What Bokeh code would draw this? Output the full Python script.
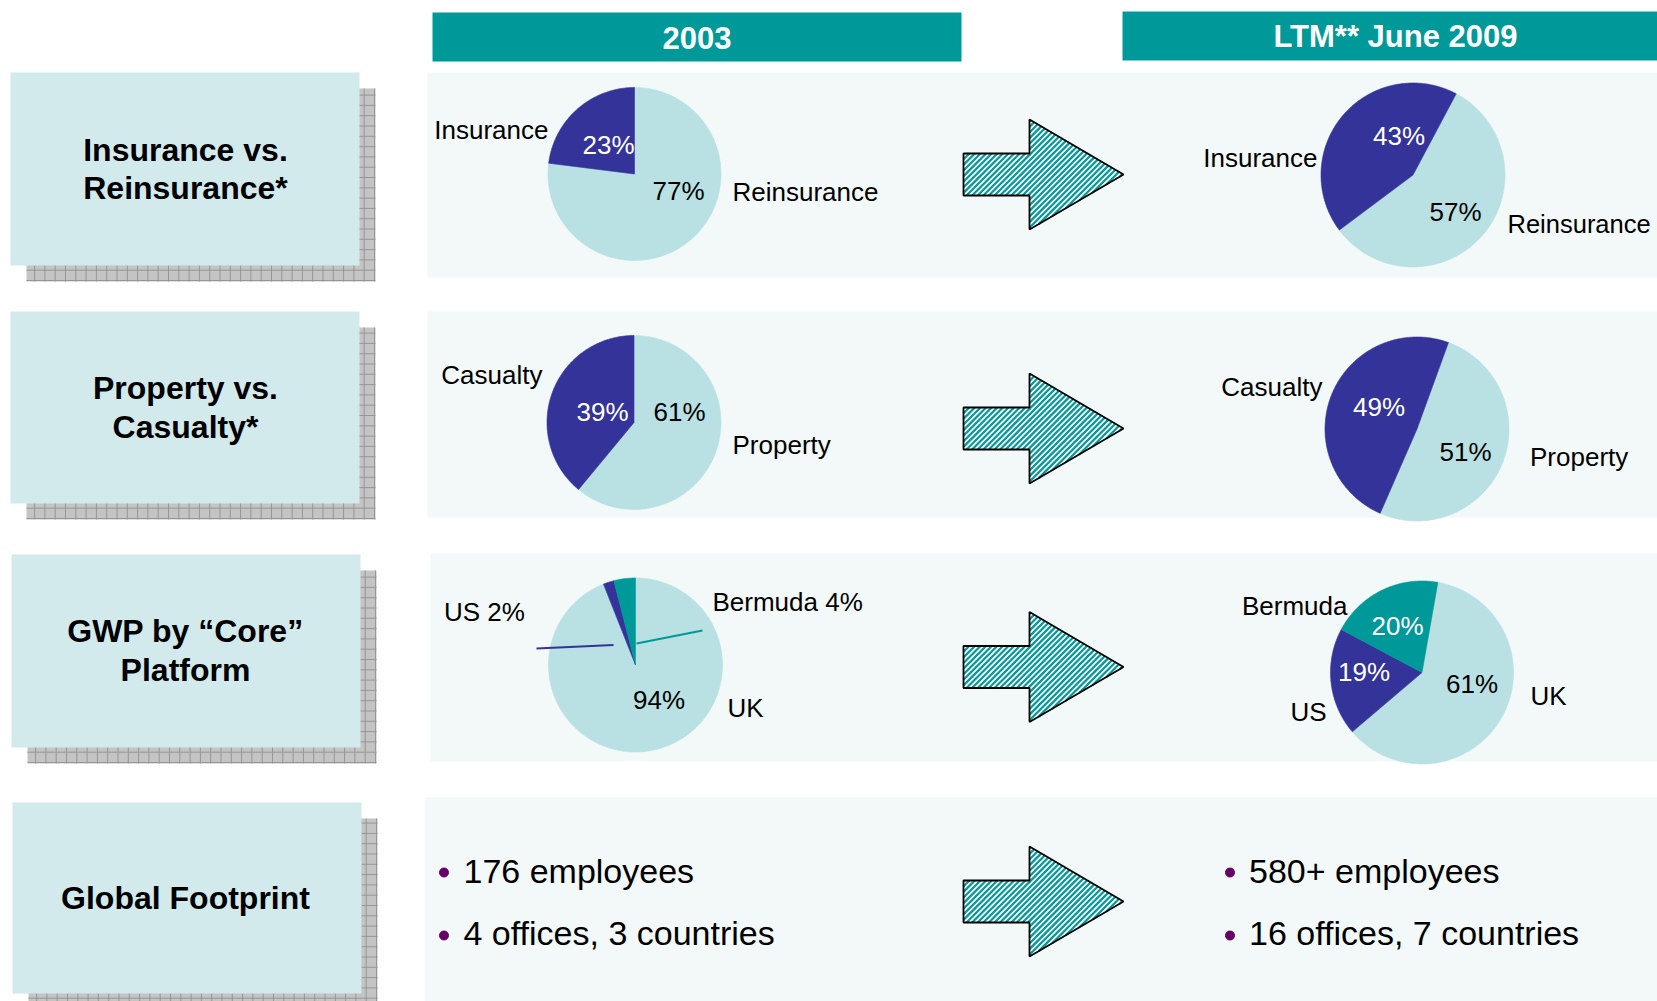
import numpy as np
from bokeh.plotting import figure
from bokeh.models import Range1d
from bokeh.core.properties import value
from bokeh.embed import file_html
from bokeh.resources import INLINE

# ---------------- data ----------------
period_labels = ["2003", "LTM** June 2009"]
row_titles = ["Insurance vs.\nReinsurance*", "Property vs.\nCasualty*",
              "GWP by \u201cCore\u201d\nPlatform", "Global Footprint"]

ins_cats = ["Reinsurance", "Insurance"]
ins_2003 = [77, 23]
ins_2009 = [57, 43]

prop_cats = ["Property", "Casualty"]
prop_2003 = [61, 39]
prop_2009 = [51, 49]

gwp_cats = ["UK", "US", "Bermuda"]
gwp_2003 = [94, 2, 4]
gwp_2009 = [61, 19, 20]

footprint_2003 = ["176 employees", "4 offices, 3 countries"]
footprint_2009 = ["580+ employees", "16 offices, 7 countries"]

# ---------------- style ----------------
FONT = "Liberation Sans"
TEAL = "#009999"
NAVY = "#333399"
PALE = "#b9e0e3"
BOX = "#d3eaec"
PANEL = "#f3f9f9"
PURPLE = "#660066"

W, H = 1657, 1001
p = figure(width=W, height=H, x_range=Range1d(0, W), y_range=Range1d(H, 0),
           output_backend="svg", toolbar_location=None, min_border=0,
           x_axis_type=None, y_axis_type=None)
p.grid.visible = False
p.outline_line_color = None
p.background_fill_color = "white"
p.border_fill_color = "white"

DY = -2  # small baseline correction for label text


def txt(x, y, s, size="26px", color="black", align="left", bold=False, lh=1.2):
    p.text(x=[x], y=[y], text=[s], text_font=value(FONT), text_font_size=size,
           text_color=color, text_align=align, text_baseline="middle",
           text_font_style="bold" if bold else "normal", text_line_height=lh)


def lab(x, y, s, **kw):
    txt(x, y + DY, s, **kw)


# header bars
p.quad(left=[432, 1122], right=[961, 1700], top=[12, 11], bottom=[61, 60],
       fill_color=TEAL, line_color=None)
txt(696.5, 37, period_labels[0], size="31px", color="white", align="center", bold=True)
txt(1395, 36, period_labels[1], size="31px", color="white", align="center", bold=True)

# row panels (right side)
panel_top = [72, 311, 553, 797]
panel_bot = [277, 517, 761, 1010]
panel_left = [427, 427, 430, 424]
p.quad(left=panel_left, right=[1700] * 4, top=panel_top, bottom=panel_bot,
       fill_color=PANEL, line_color=None)

# left title boxes with gridded shadows
box_top = [72, 311, 554, 802]
box_bot = [265, 503, 747, 993]
box_left = [10, 10, 11, 12]
box_right = [359, 359, 360, 361]
off = 16
gx0, gy0, gx1, gy1 = [], [], [], []
for l, r, t, b in zip(box_left, box_right, box_top, box_bot):
    L, R, T, B = l + off, r + off, t + off, b + off
    p.quad(left=[L], right=[R], top=[T], bottom=[B], fill_color="#c4c4c4", line_color=None)
    for xv in np.arange(R - 1, L, -10.3):
        gx0.append(xv); gx1.append(xv); gy0.append(T); gy1.append(B)
    for yv in np.arange(B - 1, T, -10.3):
        gx0.append(L); gx1.append(R); gy0.append(yv); gy1.append(yv)
p.segment(x0=gx0, y0=gy0, x1=gx1, y1=gy1, line_color="#969696", line_width=1)
p.quad(left=box_left, right=box_right, top=box_top, bottom=box_bot,
       fill_color=BOX, line_color=None)
title_y = [168.5, 407, 650, 897.5]
for t, y in zip(row_titles, title_y):
    txt(185, y, t, size="32px", align="center", bold=True, lh=1.06)


# arrows with diagonal teal stripes
def clip_line(c, poly):
    # line x + y = c ; param x = t, y = c - t ; keep inside convex polygon
    tlo, thi = -1e9, 1e9
    n = len(poly)
    area = sum(poly[i][0] * poly[(i + 1) % n][1] - poly[(i + 1) % n][0] * poly[i][1] for i in range(n))
    sgn = 1 if area > 0 else -1
    for i in range(n):
        ax, ay = poly[i]
        bx, by = poly[(i + 1) % n]
        ex, ey = bx - ax, by - ay
        k0 = (ex * (c - ay) - ey * (0 - ax)) * sgn
        k1 = (ex * (-1) - ey * 1) * sgn
        if abs(k1) < 1e-12:
            if k0 < 0:
                return None
            continue
        tt = -k0 / k1
        if k1 > 0:
            tlo = max(tlo, tt)
        else:
            thi = min(thi, tt)
    if thi <= tlo:
        return None
    return (tlo, c - tlo, thi, c - thi)


arrow_y = [174, 428, 666.5, 901]
for cy in arrow_y:
    ax = [963, 1029, 1029, 1123, 1029, 1029, 963]
    ay = [cy - 21, cy - 21, cy - 55, cy, cy + 55, cy + 21, cy + 21]
    p.patch(ax, ay, fill_color="white", line_color=None)
    rect = [(963, cy - 21), (1029.5, cy - 21), (1029.5, cy + 21), (963, cy + 21)]
    tri = [(1029, cy - 55), (1123, cy), (1029, cy + 55)]
    sx0, sy0, sx1, sy1 = [], [], [], []
    for c in np.arange(963 + cy - 60, 1123 + cy + 60, 5.6):
        for poly in (rect, tri):
            seg = clip_line(c, poly)
            if seg:
                sx0.append(seg[0]); sy0.append(seg[1]); sx1.append(seg[2]); sy1.append(seg[3])
    p.segment(x0=sx0, y0=sy0, x1=sx1, y1=sy1, line_color=TEAL, line_width=2.2)
    p.patch(ax, ay, fill_color=None, line_color="black", line_width=1.8)


# pies
def pie(cx, cy, r, vals, start_deg, colors):
    fr = np.array(vals, float) / float(sum(vals))
    cum = np.concatenate([[0.0], np.cumsum(fr)])
    xs, ys = [], []
    for i in range(len(vals)):
        n = max(4, int(fr[i] * 360))
        a = np.radians(start_deg - np.linspace(cum[i], cum[i + 1], n) * 360.0)
        xs.append([cx] + list(cx + r * np.cos(a)))
        ys.append([cy] + list(cy - r * np.sin(a)))
    p.patches(xs, ys, fill_color=colors, line_color=colors, line_width=0.6)


pie(634, 173.5, 86.5, ins_2003, 90, [PALE, NAVY])
pie(1412.5, 174.5, 92, ins_2009, 62, [PALE, NAVY])
pie(633.5, 422, 87, prop_2003, 90, [PALE, NAVY])
pie(1416.5, 428.5, 92, prop_2009, 70, [PALE, NAVY])

pie(635, 664.5, 87, gwp_2003, 90, [PALE, NAVY, TEAL])
p.segment(x0=[636, 613], y0=[643, 644.5], x1=[702, 536], y1=[630, 648],
          line_color=[TEAL, NAVY], line_width=2)
pie(1421.5, 672, 91.5, gwp_2009, 80, [PALE, NAVY, TEAL])

pct = lambda v: f"{v}%"

# row 1 labels
lab(678, 192, pct(ins_2003[0]), align="center")
lab(608, 146, pct(ins_2003[1]), color="white", align="center")
lab(732, 193, ins_cats[0])
lab(548, 131, ins_cats[1], align="right")
lab(1455, 213, pct(ins_2009[0]), align="center")
lab(1398.5, 137, pct(ins_2009[1]), color="white", align="center")
lab(1507, 225, ins_cats[0], size="25.5px")
lab(1317, 159, ins_cats[1], align="right")

# row 2 labels
lab(679, 413, pct(prop_2003[0]), align="center")
lab(602, 413, pct(prop_2003[1]), color="white", align="center")
lab(732, 446, prop_cats[0])
lab(542, 376, prop_cats[1], align="right")
lab(1465, 453.5, pct(prop_2009[0]), align="center")
lab(1378.5, 408.5, pct(prop_2009[1]), color="white", align="center")
lab(1529.5, 458.5, prop_cats[0])
lab(1322, 388.5, prop_cats[1], align="right")

# row 3 labels
lab(658.5, 701.5, pct(gwp_2003[0]), align="center")
lab(727, 709, gwp_cats[0])
lab(443.5, 613, f"{gwp_cats[1]} {pct(gwp_2003[1])}")
lab(712, 603, f"{gwp_cats[2]} {pct(gwp_2003[2])}")
lab(1471.5, 685, pct(gwp_2009[0]), align="center")
lab(1363.5, 673.5, pct(gwp_2009[1]), color="white", align="center")
lab(1397, 627, pct(gwp_2009[2]), color="white", align="center")
lab(1530, 697, gwp_cats[0])
lab(1326, 713.5, gwp_cats[1], align="right")
lab(1347, 607, gwp_cats[2], align="right")

# row 4 bullets
bul_y = [870, 932.5]
p.scatter(x=[443.5] * 2 + [1229.5] * 2, y=[872, 935, 872, 935], size=9,
          fill_color=PURPLE, line_color=PURPLE)
for s, y in zip(footprint_2003, bul_y):
    txt(463, y, s, size="34px")
for s, y in zip(footprint_2009, bul_y):
    txt(1248.5, y, s, size="34px")

open("out.html", "w").write(file_html(p, INLINE))
